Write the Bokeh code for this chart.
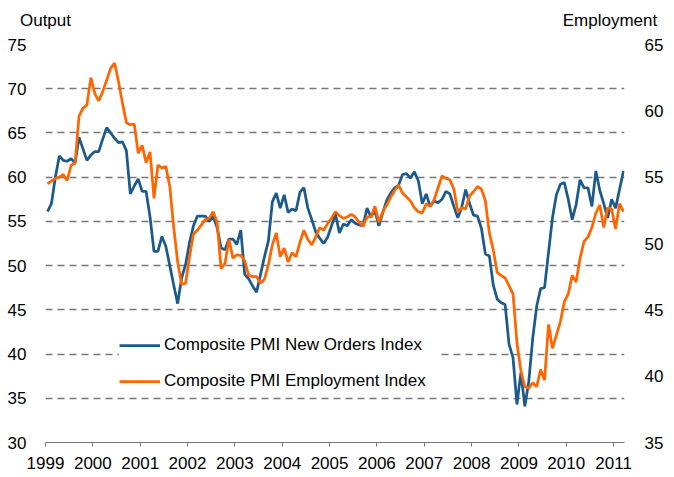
import pandas as pd
from bokeh.plotting import figure
from bokeh.models import (Range1d, LinearAxis, FixedTicker, Legend, LegendItem)
from bokeh.embed import file_html
from bokeh.resources import INLINE

# Monthly observations, Jan 1999 - Mar 2011
months = pd.period_range("1999-01", "2011-03", freq="M")

new_orders = [
    56.1, 57.0, 60.0, 62.4, 61.9, 61.8, 62.1, 61.6, 64.5, 63.2, 61.9, 62.5,
    62.9, 62.9, 64.3, 65.6, 65.0, 64.4, 63.9, 64.0, 63.0, 58.1, 59.0, 59.8,
    58.4, 58.4, 55.5, 51.6, 51.6, 53.3, 52.2, 50.0, 47.8, 45.7, 48.6, 50.1,
    52.6, 54.5, 55.6, 55.6, 55.6, 55.0, 55.6, 54.3, 52.0, 51.8, 53.0, 53.0,
    52.4, 54.0, 49.0, 48.5, 47.7, 47.0, 49.0, 51.0, 52.8, 57.2, 58.2, 56.5,
    58.0, 56.0, 56.4, 56.2, 58.3, 58.8, 56.5, 55.2, 53.8, 53.1, 52.5, 53.2,
    54.5, 55.8, 53.7, 54.7, 54.5, 55.2, 54.8, 54.6, 54.5, 56.5, 55.5, 56.2,
    54.5, 56.0, 57.4, 58.2, 58.8, 59.1, 60.3, 60.4, 59.9, 60.6, 59.6, 57.0,
    58.1, 56.7, 57.3, 57.1, 57.5, 58.4, 58.1, 56.7, 55.4, 56.6, 58.6, 57.0,
    55.7, 55.6, 54.2, 51.3, 51.1, 47.8, 46.2, 45.8, 45.6, 41.1, 39.6, 34.3,
    37.9, 34.1, 36.9, 41.8, 45.4, 47.4, 47.5, 51.5, 55.4, 58.0, 59.2, 59.4,
    57.5, 55.2, 56.9, 59.7, 58.8, 58.8, 56.7, 60.7, 58.5, 57.0, 55.4, 57.5,
    56.5, 58.6, 60.7,
]

employment = [
    54.5, 54.7, 54.9, 55.0, 55.2, 54.75, 55.9, 56.05, 59.6, 60.2, 60.45, 62.5,
    61.3, 60.75, 61.45, 62.3, 63.2, 63.6, 62.2, 60.6, 59.1, 58.95, 59.0, 56.8,
    57.4, 56.1, 56.9, 53.4, 55.9, 55.7, 55.8, 54.3, 51.2, 48.6, 46.9, 47.0,
    49.0, 50.7, 51.0, 51.4, 51.8, 51.9, 52.4, 51.6, 48.1, 48.5, 50.3, 48.9,
    49.15, 49.1, 48.7, 47.6, 47.5, 47.5, 47.0, 47.3, 48.4, 49.9, 50.8, 49.0,
    49.65, 48.6, 49.3, 49.0, 50.1, 51.0, 50.3, 49.9, 50.5, 51.2, 51.0, 51.5,
    51.9, 52.4, 52.1, 51.9, 52.0, 52.2, 52.0, 51.6, 51.3, 52.0, 52.0, 52.8,
    51.6, 52.4, 52.9, 53.5, 54.0, 54.4, 53.8, 53.5, 53.2, 52.7, 52.4, 52.3,
    53.0, 52.8, 53.3, 54.2, 55.1, 54.9, 54.8, 54.1, 52.4, 52.7, 52.6, 53.6,
    53.9, 54.3, 54.1, 53.2, 50.8, 49.5, 47.8, 47.6, 47.4, 46.8, 46.2, 42.5,
    40.4, 39.2, 39.1, 39.5, 39.2, 40.5, 39.7, 43.9, 42.1, 43.1, 44.1, 45.6,
    46.2, 47.6, 47.1, 48.9, 50.15, 50.5, 51.2, 52.3, 52.9, 51.2, 52.7, 52.6,
    51.1, 53.0, 52.4,
]

year_ticks = list(range(1999, 2012))
output_ticks = [30, 35, 40, 45, 50, 55, 60, 65, 70, 75]
employment_ticks = [35, 40, 45, 50, 55, 60, 65]

axis_titles = ["Output", "Employment"]
series_names = ["Composite PMI New Orders Index", "Composite PMI Employment Index"]
series_colors = ["#1D5A8C", "#FF6600"]

# mid-month positions in fractional years
x = list(months.year + (months.month - 0.5) / 12.0)

FONT = "Liberation Sans"
FS = "17px"

p = figure(width=674, height=477, output_backend="svg", toolbar_location=None,
           title=None,
           x_range=Range1d(1999, 2011.23), y_range=Range1d(30, 75),
           min_border_left=45, min_border_right=50, min_border_top=44,
           min_border_bottom=35)
p.outline_line_color = None
p.background_fill_color = "white"
p.border_fill_color = "white"

p.extra_y_ranges = {"emp": Range1d(35, 65)}
# pixel-like range for the top header axis carrying the two axis titles
p.extra_x_ranges = {"hdr": Range1d(45, 624)}

# axes
p.xaxis.ticker = FixedTicker(ticks=year_ticks)
p.xaxis.minor_tick_line_color = None
p.xaxis.major_tick_in = 0
p.xaxis.major_tick_out = 4
p.xaxis.axis_line_color = "#777777"
p.xaxis.major_tick_line_color = "#777777"
p.xaxis.major_label_text_font = FONT
p.xaxis.major_label_text_font_size = FS
p.xaxis.major_label_text_color = "black"
p.xaxis.major_label_standoff = 10

p.yaxis.ticker = FixedTicker(ticks=output_ticks)
p.yaxis.axis_line_color = None
p.yaxis.major_tick_line_color = None
p.yaxis.minor_tick_line_color = None
p.yaxis.major_label_text_font = FONT
p.yaxis.major_label_text_font_size = FS
p.yaxis.major_label_text_color = "black"
p.yaxis.major_label_standoff = 13

raxis = LinearAxis(y_range_name="emp", ticker=FixedTicker(ticks=employment_ticks))
raxis.axis_line_color = None
raxis.major_tick_line_color = None
raxis.minor_tick_line_color = None
raxis.major_label_text_font = FONT
raxis.major_label_text_font_size = FS
raxis.major_label_text_color = "black"
raxis.major_label_standoff = 14
p.add_layout(raxis, "right")

# header axis: "Output" over the left scale, "Employment" over the right one
hdr_pos = [45.0, 609.5]
haxis = LinearAxis(x_range_name="hdr", ticker=FixedTicker(ticks=hdr_pos),
                   major_label_overrides={hdr_pos[0]: axis_titles[0],
                                          hdr_pos[1]: axis_titles[1]})
haxis.axis_line_color = None
haxis.major_tick_line_color = None
haxis.minor_tick_line_color = None
haxis.major_tick_in = 0
haxis.major_tick_out = 0
haxis.major_label_text_font = FONT
haxis.major_label_text_font_size = FS
haxis.major_label_text_color = "black"
haxis.major_label_standoff = 15
p.add_layout(haxis, "above")

# grid
p.xgrid.grid_line_color = None
p.ygrid.ticker = FixedTicker(ticks=output_ticks[1:])
p.ygrid.grid_line_color = "#777777"
p.ygrid.grid_line_width = 1.3
p.ygrid.grid_line_dash = "7 5"

r1 = p.line(x, new_orders, line_color=series_colors[0], line_width=2.75)
r2 = p.line(x, employment, line_color=series_colors[1], line_width=2.75,
            y_range_name="emp")

legend = Legend(items=[LegendItem(label=series_names[0], renderers=[r1]),
                       LegendItem(label=series_names[1], renderers=[r2])],
                location=(74, 51), orientation="vertical",
                border_line_color=None, background_fill_color="white",
                background_fill_alpha=1.0, padding=6, margin=0, spacing=16,
                glyph_width=41, glyph_height=20, label_height=20,
                label_width=273, label_standoff=4,
                label_text_font=FONT, label_text_font_size=FS,
                label_text_color="black")
p.add_layout(legend)

open("out.html", "w").write(file_html(p, INLINE))
